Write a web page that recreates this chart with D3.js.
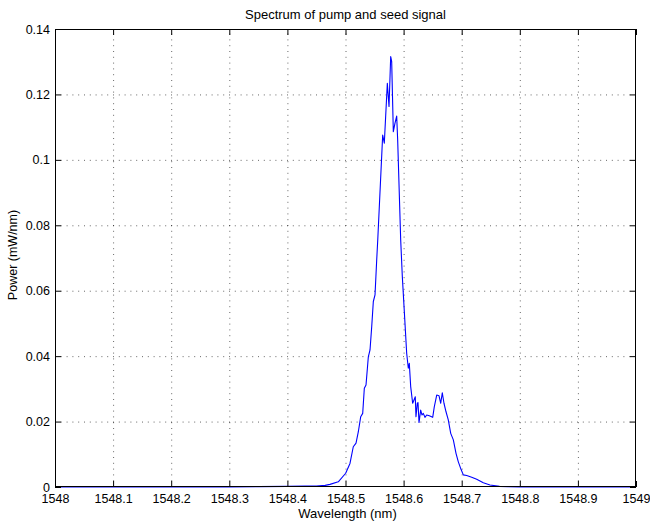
<!DOCTYPE html>
<html>
<head>
<meta charset="utf-8">
<script src="https://cdn.jsdelivr.net/npm/d3@7"></script>
<style>
  body { margin: 0; background: #fff; }
  svg { display: block; font-family: "Liberation Sans", Arial, sans-serif; }
  .tick text { font-size: 12.5px; fill: #000; }
  .grid line { stroke: #000; stroke-opacity: 0.6; stroke-dasharray: 1,4.8; }
</style>
</head>
<body>
<svg id="chart" width="650" height="524"></svg>
<script>
// Spectrum of pump and seed signal

// Wavelength (nm)
const wavelength = [
  1548.0, 1548.1, 1548.2, 1548.3, 1548.35, 1548.40, 1548.43, 1548.45, 1548.465,
  1548.4733, 1548.4876, 1548.5003, 1548.5077, 1548.5134, 1548.5181, 1548.5221,
  1548.5262, 1548.5296, 1548.5324, 1548.5353, 1548.5393, 1548.5422, 1548.5451,
  1548.5479, 1548.5508, 1548.5537, 1548.5555, 1548.5640, 1548.5668, 1548.5720,
  1548.5749, 1548.5778, 1548.5795, 1548.5823, 1548.5852, 1548.5881, 1548.5898,
  1548.5950, 1548.5978, 1548.6024, 1548.6053, 1548.6081, 1548.6098, 1548.6122,
  1548.6156, 1548.6179, 1548.6201, 1548.6213, 1548.6236, 1548.6248, 1548.6265,
  1548.6294, 1548.6317, 1548.6339, 1548.6368, 1548.6397, 1548.6442, 1548.6501,
  1548.6528, 1548.6570, 1548.6609, 1548.6639, 1548.6666, 1548.6695, 1548.6730,
  1548.6769, 1548.6811, 1548.6856, 1548.6902, 1548.6942, 1548.6988, 1548.7028,
  1548.7086, 1548.7172, 1548.7258, 1548.7372, 1548.7487, 1548.765, 1548.78,
  1548.80, 1548.9, 1549.0
]

// Power (mW/nm)
const power = [
  0, 0, 0, 0, 0.0001, 0.0002, 0.0003, 0.0003, 0.0005,
  0.0008, 0.0016, 0.0042, 0.0072, 0.0123, 0.0134, 0.0169,
  0.0215, 0.0225, 0.0302, 0.0312, 0.0398, 0.0419, 0.0490,
  0.0567, 0.0587, 0.0694, 0.0755, 0.1076, 0.1051, 0.1234,
  0.1163, 0.1316, 0.1300, 0.1086, 0.1112, 0.1134, 0.1061,
  0.0755, 0.0643, 0.0500, 0.0409, 0.0363, 0.0378, 0.0307,
  0.0256, 0.0266, 0.0276, 0.0215, 0.0256, 0.0258, 0.0197,
  0.0235, 0.0220, 0.0225, 0.0213, 0.0220, 0.0218, 0.0213,
  0.0245, 0.0281, 0.0279, 0.0256, 0.0288, 0.0256, 0.0230,
  0.0205, 0.0164, 0.0144, 0.0103, 0.0077, 0.0054, 0.0037,
  0.0035, 0.0030, 0.0024, 0.0013, 0.0006, 0.0002, 0.0001,
  0, 0, 0
]

const xTicks = [1548, 1548.1, 1548.2, 1548.3, 1548.4, 1548.5, 1548.6, 1548.7, 1548.8, 1548.9, 1549]
const yTicks = [0, 0.02, 0.04, 0.06, 0.08, 0.1, 0.12, 0.14]

let svg = d3.select('#chart')

let plot = {
  left: 55,
  right: 636,
  top: 29,
  bottom: 487
}

let x = d3.scaleLinear()
    .domain([1548, 1549])
    .range([plot.left, plot.right])

let y = d3.scaleLinear()
    .domain([0, 0.14])
    .range([plot.bottom, plot.top])

let fmtX = d => String(+d.toFixed(1))
let fmtY = d => String(+d.toFixed(2))

// Grid
svg.append('g')
  .attr('class', 'grid')
  .attr('transform', 'translate(0,' + plot.bottom + ')')
  .call(d3.axisBottom(x).tickValues(xTicks.slice(1, -1)).tickSize(-(plot.bottom - plot.top)).tickFormat(''))
  .call(g => g.select('.domain').remove())

svg.append('g')
  .attr('class', 'grid')
  .attr('transform', 'translate(' + plot.left + ',0)')
  .call(d3.axisLeft(y).tickValues(yTicks.slice(1, -1)).tickSize(-(plot.right - plot.left)).tickFormat(''))
  .call(g => g.select('.domain').remove())

// Spectrum line
let line = d3.line()
    .x((d, i) => x(wavelength[i]))
    .y(d => y(d))

svg.append('path')
  .datum(power)
  .attr('d', line)
  .attr('fill', 'none')
  .attr('stroke', '#0000ff')
  .attr('stroke-width', 1.1)
  .attr('stroke-linejoin', 'round')

// Axes, ticks pointing inward
let axisStyle = g => {
  g.select('.domain').remove()
  g.selectAll('.tick line').attr('stroke', '#000')
}

svg.append('g')
  .attr('transform', 'translate(0,' + plot.bottom + ')')
  .call(d3.axisBottom(x).tickValues(xTicks).tickFormat(fmtX).tickSize(-6).tickPadding(7))
  .call(axisStyle)

svg.append('g')
  .attr('transform', 'translate(0,' + plot.top + ')')
  .call(d3.axisTop(x).tickValues(xTicks).tickFormat('').tickSize(-6))
  .call(axisStyle)

svg.append('g')
  .attr('transform', 'translate(' + plot.left + ',0)')
  .call(d3.axisLeft(y).tickValues(yTicks).tickFormat(fmtY).tickSize(-6).tickPadding(5))
  .call(axisStyle)

svg.append('g')
  .attr('transform', 'translate(' + plot.right + ',0)')
  .call(d3.axisRight(y).tickValues(yTicks).tickFormat('').tickSize(-6))
  .call(axisStyle)

// Frame
svg.append('rect')
  .attr('x', plot.left + 0.5)
  .attr('y', plot.top + 0.5)
  .attr('width', plot.right - plot.left - 1)
  .attr('height', plot.bottom - plot.top - 1)
  .attr('fill', 'none')
  .attr('stroke', '#000')

// Labels
svg.append('text')
  .attr('x', (plot.left + plot.right) / 2)
  .attr('y', 19)
  .attr('text-anchor', 'middle')
  .style('font-size', '13px')
  .text('Spectrum of pump and seed signal')

svg.append('text')
  .attr('x', (plot.left + plot.right) / 2 + 2)
  .attr('y', 518)
  .attr('text-anchor', 'middle')
  .style('font-size', '13px')
  .text('Wavelength (nm)')

svg.append('text')
  .attr('transform', 'translate(17,' + 255 + ') rotate(-90)')
  .attr('text-anchor', 'middle')
  .style('font-size', '12.5px')
  .text('Power (mW/nm)')
</script>
</body>
</html>
